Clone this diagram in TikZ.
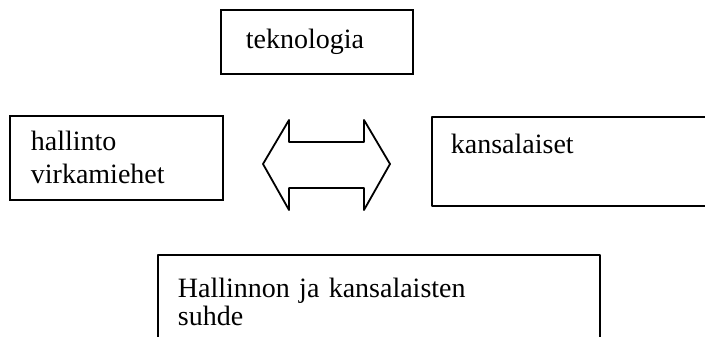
\documentclass[tikz,border=0pt]{standalone}
\usepackage{fontspec}
\setmainfont{Liberation Serif}
\usepackage{tikz}
\usetikzlibrary{positioning}

\tikzset{
    boks/.style={draw, line width=1.8pt, anchor=north west, align=left,
        inner ysep=0pt, font=\fontsize{28}{33}\selectfont},
    viiva/.style={line width=1.8pt, line join=round},
}

\begin{document}
\begin{tikzpicture}[x=1pt, y=-1pt]
    \useasboundingbox (0,0) rectangle (705,337);
    \node [boks, inner xsep=25pt, text width=142pt, minimum height=64pt] (tekno) at (220,9) {teknologia};
    \node [boks, inner xsep=21pt, inner ysep=9pt, text width=171pt, text height=26pt, text depth=40pt] (hallinto) at (9,115) {hallinto\\virkamiehet};
    \node [boks, draw=none, inner xsep=18pt, inner ysep=10pt, text width=300pt, text height=26pt, text depth=41pt] (kansa) at (432,117) {kansalaiset};
    \draw [viiva] (kansa.north east) -- (kansa.north west) -- (kansa.south west) -- (kansa.south east);
    \node [boks, draw=none, inner xsep=19pt, text width=402pt, minimum height=92pt, font=\fontsize{28}{28}\selectfont] (suhde) at (158,255) {Hallinnon ja kansalaisten\\suhde};
    \draw [viiva] (suhde.south west) -- (suhde.north west) -- (suhde.north east) -- (suhde.south east);
    % kaksisuuntainen nuoli
    \draw [viiva] (263,164) -- (289,120) -- (289,142) -- (364,142) -- (364,120) -- (390,164)
        -- (364,210) -- (364,188) -- (289,188) -- (289,210) -- cycle;
\end{tikzpicture}
\end{document}
